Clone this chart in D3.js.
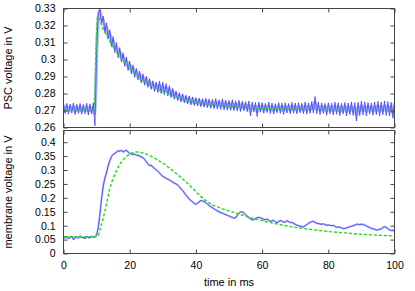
<!DOCTYPE html>
<html>
<head>
<meta charset="utf-8">
<script src="https://d3js.org/d3.v7.min.js"></script>
<style>
body { margin: 0; background: #fff; }
svg { font-family: "Liberation Sans", Arial, sans-serif; }
</style>
</head>
<body>
<svg id="chart" width="415" height="291"></svg>
<script>
// sample times of the recorded traces (ms), one every 0.5 ms
const sampleTimes = d3.range(0, 100.25, 0.5);

// PSC trace (V)
const pscTrace = [
  0.2735,0.2682,0.2742,0.2679,0.2738,0.2685,0.2744,0.2676,0.2737,0.2683,0.2741,0.2678,0.2736,0.2681,0.2743,0.2674,0.2739,0.2680,0.2745,0.2610,
  0.3050,0.3270,0.3300,0.3215,0.3255,0.3160,0.3215,0.3120,0.3175,0.3075,0.3135,0.3040,0.3100,0.3010,0.3070,0.2985,0.3040,0.2960,0.3015,0.2935,
  0.2990,0.2915,0.2968,0.2895,0.2948,0.2880,0.2932,0.2862,0.2915,0.2848,0.2902,0.2836,0.2888,0.2824,0.2875,0.2812,0.2868,0.2806,0.2872,0.2800,
  0.2866,0.2792,0.2858,0.2786,0.2846,0.2776,0.2830,0.2766,0.2815,0.2758,0.2805,0.2750,0.2798,0.2744,0.2790,0.2738,0.2786,0.2733,0.2780,0.2729,
  0.2776,0.2726,0.2773,0.2722,0.2770,0.2719,0.2772,0.2716,0.2768,0.2713,0.2766,0.2710,0.2770,0.2708,0.2763,0.2706,0.2768,0.2704,0.2762,0.2702,
  0.2760,0.2700,0.2764,0.2699,0.2757,0.2697,0.2760,0.2694,0.2755,0.2698,0.2752,0.2693,0.2756,0.2668,0.2750,0.2692,0.2747,0.2665,0.2750,0.2690,
  0.2746,0.2684,0.2742,0.2688,0.2749,0.2682,0.2744,0.2679,0.2740,0.2686,0.2747,0.2683,0.2743,0.2677,0.2745,0.2685,0.2741,0.2681,0.2748,0.2684,
  0.2744,0.2680,0.2746,0.2686,0.2742,0.2682,0.2750,0.2679,0.2745,0.2684,0.2752,0.2686,0.2782,0.2681,0.2748,0.2676,0.2744,0.2683,0.2741,0.2672,
  0.2746,0.2680,0.2743,0.2674,0.2749,0.2678,0.2745,0.2670,0.2742,0.2680,0.2747,0.2668,0.2744,0.2676,0.2750,0.2672,0.2746,0.2638,0.2748,0.2670,
  0.2755,0.2674,0.2751,0.2668,0.2747,0.2679,0.2744,0.2672,0.2749,0.2676,0.2753,0.2669,0.2750,0.2675,0.2756,0.2671,0.2752,0.2668,0.2748,0.2655,
  0.2745
];

// fitted PSC (green dashed)
const pscFitTimes = [0, 9.2, 10.3, 12, 14, 16, 18, 20, 22, 24, 26, 28, 30, 33, 36, 40, 45, 50, 55, 60, 70, 80, 90, 100];
const pscFitValues = [0.2704, 0.2704, 0.3251, 0.3179, 0.3106, 0.3044, 0.2992, 0.2948, 0.2910, 0.2879, 0.2852, 0.2829,
  0.2810, 0.2787, 0.2768, 0.2750, 0.2734, 0.2724, 0.2717, 0.2713, 0.2708, 0.2706, 0.2705, 0.2705];

// membrane voltage trace (V)
const membraneTrace = [
  0.060,0.055,0.062,0.052,0.058,0.063,0.049,0.057,0.061,0.054,0.064,0.056,0.059,0.052,0.062,0.058,0.055,0.063,0.057,0.060,
  0.066,0.092,0.140,0.198,0.243,0.272,0.290,0.316,0.334,0.349,0.356,0.360,0.363,0.371,0.366,0.372,0.364,0.368,0.372,0.365,
  0.360,0.357,0.355,0.358,0.352,0.354,0.350,0.347,0.345,0.338,0.330,0.322,0.315,0.318,0.310,0.306,0.300,0.296,0.290,0.283,
  0.277,0.274,0.270,0.267,0.264,0.260,0.256,0.253,0.250,0.246,0.240,0.232,0.226,0.218,0.210,0.202,0.195,0.190,0.185,0.180,
  0.176,0.181,0.186,0.191,0.189,0.186,0.183,0.177,0.172,0.168,0.165,0.160,0.157,0.153,0.150,0.147,0.145,0.142,0.140,0.137,
  0.135,0.132,0.130,0.127,0.128,0.137,0.145,0.149,0.150,0.145,0.140,0.134,0.130,0.124,0.120,0.122,0.125,0.129,0.130,0.128,
  0.127,0.121,0.122,0.124,0.120,0.115,0.118,0.119,0.115,0.110,0.115,0.119,0.117,0.112,0.113,0.118,0.115,0.111,0.112,0.108,
  0.105,0.102,0.100,0.098,0.097,0.095,0.100,0.104,0.108,0.112,0.115,0.116,0.112,0.108,0.108,0.106,0.105,0.107,0.104,0.101,
  0.103,0.101,0.100,0.101,0.098,0.094,0.095,0.095,0.092,0.089,0.090,0.093,0.093,0.097,0.098,0.100,0.102,0.105,0.105,0.103,
  0.106,0.104,0.102,0.099,0.096,0.094,0.090,0.089,0.087,0.084,0.085,0.087,0.088,0.094,0.097,0.093,0.090,0.085,0.082,0.084,
  0.080
];

// fitted membrane voltage (green dashed)
const membraneFitTimes = [0, 9.5, 10, 10.5, 11, 12, 13, 14, 15, 16, 17, 18, 19, 20, 21, 22, 23, 24, 25, 26, 27, 28, 29, 30,
  32, 35, 37, 39, 41, 43, 45, 47, 50, 55, 60, 65, 70, 75, 80, 85, 90, 95, 100];
const membraneFitValues = [0.060, 0.060, 0.061, 0.066, 0.085, 0.128, 0.180, 0.235, 0.270, 0.298, 0.320, 0.336, 0.348, 0.357,
  0.362, 0.365, 0.364, 0.361, 0.357, 0.352, 0.346, 0.339, 0.332, 0.325, 0.307, 0.278, 0.257, 0.234, 0.210, 0.190, 0.175,
  0.165, 0.153, 0.134, 0.118, 0.105, 0.094, 0.086, 0.079, 0.074, 0.069, 0.066, 0.063];

const timeTicks = [0, 20, 40, 60, 80, 100];
const pscTicks = [0.26, 0.27, 0.28, 0.29, 0.3, 0.31, 0.32, 0.33];
const membraneTicks = [0, 0.05, 0.1, 0.15, 0.2, 0.25, 0.3, 0.35, 0.4];

const svg = d3.select("svg#chart");
const plotLeft = 63.5;
const plotRight = 394.5;
const frameColor = "#444";
const darkBlue = "#2a2aff";
const lightBlue = "#aaaaff";
const fitGreen = "#18e018";

const xScale = d3.scaleLinear().domain([0, 100]).range([plotLeft, plotRight]);

const panels = [
  {
    id: "psc", top: 8.5, bottom: 127.5, domain: [0.26, 0.33], ticks: pscTicks,
    trace: pscTrace, fitT: pscFitTimes, fitV: pscFitValues,
    label: "PSC voltage in V", bandWidth: 3.4, showX: false
  },
  {
    id: "mem", top: 130.5, bottom: 253.5, domain: [0, 0.442], ticks: membraneTicks,
    trace: membraneTrace, fitT: membraneFitTimes, fitV: membraneFitValues,
    label: "membrane voltage in V", bandWidth: 2, showX: true
  }
];

panels.forEach((p) => {
  const yScale = d3.scaleLinear().domain(p.domain).range([p.bottom, p.top]);
  const g = svg.append("g");

  g.append("clipPath")
    .attr("id", "clip-" + p.id)
    .append("rect")
    .attr("x", plotLeft)
    .attr("y", p.top)
    .attr("width", plotRight - plotLeft)
    .attr("height", p.bottom - p.top);

  const lines = g.append("g").attr("clip-path", `url(#clip-${p.id})`);

  // light band: smoothed version of the trace
  lines.append("path")
    .datum(p.trace)
    .attr("fill", "none")
    .attr("stroke", lightBlue)
    .attr("stroke-width", p.bandWidth)
    .attr("stroke-opacity", 0.85)
    .attr("stroke-linejoin", "round")
    .attr("d", d3.line()
      .x((d, i) => xScale(sampleTimes[i]))
      .y((d) => yScale(d))
      .curve(d3.curveBasis));

  // raw trace
  lines.append("path")
    .datum(p.trace)
    .attr("fill", "none")
    .attr("stroke", darkBlue)
    .attr("stroke-width", 0.7)
    .attr("d", d3.line()
      .x((d, i) => xScale(sampleTimes[i]))
      .y((d) => yScale(d)));

  // fit
  lines.append("path")
    .datum(p.fitV)
    .attr("fill", "none")
    .attr("stroke", fitGreen)
    .attr("stroke-width", 1.4)
    .attr("stroke-dasharray", "3,2")
    .attr("d", d3.line()
      .x((d, i) => xScale(p.fitT[i]))
      .y((d) => yScale(d))
      .curve(d3.curveMonotoneX));

  // axes with inward ticks, mirrored
  const styleAxis = (sel) => {
    sel.select(".domain").remove();
    sel.selectAll("line").attr("stroke", frameColor);
    sel.selectAll("text").attr("fill", "#000").style("font-size", "10.5px");
  };
  g.append("g")
    .attr("transform", `translate(${plotLeft},0)`)
    .call(d3.axisLeft(yScale).tickValues(p.ticks).tickSize(-4).tickPadding(8)
      .tickFormat(d3.format("")))
    .call(styleAxis);
  g.append("g")
    .attr("transform", `translate(${plotRight},0)`)
    .call(d3.axisRight(yScale).tickValues(p.ticks).tickSize(-4).tickFormat(""))
    .call(styleAxis);
  g.append("g")
    .attr("transform", `translate(0,${p.bottom})`)
    .call(d3.axisBottom(xScale).tickValues(timeTicks).tickSize(-4).tickPadding(8)
      .tickFormat(p.showX ? d3.format("") : ""))
    .call(styleAxis);
  g.append("g")
    .attr("transform", `translate(0,${p.top})`)
    .call(d3.axisTop(xScale).tickValues(timeTicks).tickSize(-4).tickFormat(""))
    .call(styleAxis);

  g.append("rect")
    .attr("x", plotLeft)
    .attr("y", p.top)
    .attr("width", plotRight - plotLeft)
    .attr("height", p.bottom - p.top)
    .attr("fill", "none")
    .attr("stroke", frameColor)
    .attr("stroke-width", 1);

  g.append("text")
    .attr("transform", `translate(12,${(p.top + p.bottom) / 2}) rotate(-90)`)
    .attr("text-anchor", "middle")
    .style("font-size", "11px")
    .text(p.label);
});

svg.append("text")
  .attr("x", (plotLeft + plotRight) / 2)
  .attr("y", 286)
  .attr("text-anchor", "middle")
  .style("font-size", "11px")
  .text("time in ms");
</script>
</body>
</html>
